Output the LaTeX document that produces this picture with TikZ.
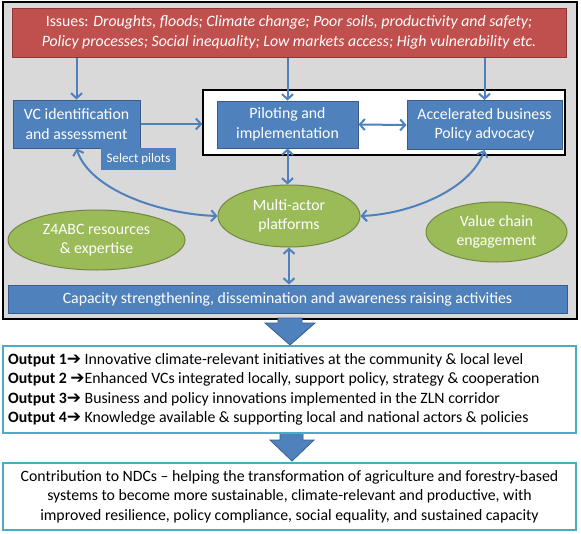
\documentclass[tikz,border=0pt]{standalone}
\usepackage{fontspec}
\setmainfont{Carlito}
\newfontfamily\symfont{DejaVu Sans}
\usetikzlibrary{arrows.meta,shapes.geometric}
\definecolor{boxblue}{HTML}{4F81BD}
\definecolor{boxblueline}{HTML}{385D8A}
\definecolor{issuered}{HTML}{C0504D}
\definecolor{issueredline}{HTML}{8C3836}
\definecolor{ellgreen}{HTML}{9BBB59}
\definecolor{ellgreenline}{HTML}{71893F}
\definecolor{framegray}{HTML}{D9D9D9}
\definecolor{outline}{HTML}{4BACC6}
\newcommand{\outarrow}{{\symfont\bfseries\fontsize{17}{19.5}\selectfont ➔}}
\begin{document}
\begin{tikzpicture}[x=1pt, y=-1pt,
  every node/.style={font=\fontsize{15.8}{19.5}\selectfont, inner sep=0pt},
  bluebox/.style={draw=boxblueline, fill=boxblue, line width=1pt, text=white, align=center},
  greenell/.style={ellipse, draw=ellgreenline, fill=ellgreen, line width=1pt, text=white, align=center},
  link/.style={draw=boxblue, line width=2pt, {Straight Barb[length=5pt,width=11pt]}-{Straight Barb[length=5pt,width=11pt]}},
  onelink/.style={draw=boxblue, line width=2pt, -{Straight Barb[length=5pt,width=11pt]}},
  bigarrow/.style={fill=boxblue, draw=boxblueline, line width=0.8pt},
  textbox/.style={draw=outline, fill=white, line width=1.5pt}]
  \useasboundingbox (0,0) rectangle (581,533);

  % 1. outer frame and issues
  \node[draw=black, fill=framegray, line width=2pt, minimum width=574, minimum height=317] (outer) at (290,160.5) {};
  \node[draw=issueredline, fill=issuered, line width=1pt, text=white, align=center,
        minimum width=554, minimum height=49] (issues) at (289,32.5)
        {Issues: \textit{Droughts, floods; Climate change; Poor soils, productivity and safety;}\\
         \textit{Policy processes; Social inequality; Low markets access; High vulnerability etc.}};

  % 2. boxes
  \node[draw=black, fill=white, line width=1.5pt, minimum width=362, minimum height=65] (frame) at (384,122.5) {};
  \node[bluebox, minimum width=127, minimum height=48] (vc) at (76.5,124) {VC identification\\and assessment};
  \node[bluebox, draw=none, font=\fontsize{13}{15}\selectfont, minimum width=75, minimum height=22] (pilots) at (138.5,159) {Select pilots};
  \node[bluebox, minimum width=141, minimum height=47] (pilot) at (287.5,124.5) {Piloting and\\implementation};
  \node[bluebox, minimum width=155, minimum height=49] (accel) at (484.5,125) {Accelerated business\\Policy advocacy};

  % 3. ellipses and bar
  \node[greenell, minimum width=142, minimum height=62] (multi) at (289,216) {Multi-actor\\platforms};
  \node[greenell, minimum width=177, minimum height=60] (z4abc) at (96.5,240) {Z4ABC resources\\\& expertise};
  \node[greenell, minimum width=141, minimum height=60] (chain) at (496.5,232) {Value chain\\engagement};
  \node[bluebox, minimum width=559, minimum height=28] (capacity) at (287.5,299) {Capacity strengthening, dissemination and awareness raising activities};

  % 4. connectors
  \draw[onelink] (issues.south -| vc.north) -- (vc.north);
  \draw[onelink] (issues.south -| pilot.north) -- (pilot.north);
  \draw[onelink] (issues.south -| accel.north) -- (accel.north);
  \draw[onelink] (vc.east) -- (vc.east -| frame.west);
  \draw[link] (pilot.east) -- (accel.west);
  \draw[link] (pilot.south) -- (pilot.south |- multi.north);
  \draw[link] (multi.south) -- (multi.south |- capacity.north);
  \draw[link] (vc.south) .. controls (90,190) and (160,214) .. (multi.west);
  \draw[link] (accel.south) .. controls (470,190) and (410,214) .. (multi.east);

  % 5. big arrows
  \draw[bigarrow] (278,318) -- (302,318) -- (302,323) -- (315,323) -- (290,345) -- (265,323) -- (278,323) -- cycle;
  \draw[bigarrow] (280,433) -- (303,433) -- (303,440) -- (314,440) -- (292,461) -- (270,440) -- (280,440) -- cycle;

  % 6. outputs and contribution
  \node[textbox, minimum width=573, minimum height=87] (outputs) at (289.5,389.5) {};
  \node[anchor=west, align=left] (outtext) at (8,389.5)
    {\textbf{Output 1}\outarrow{} Innovative climate-relevant initiatives at the community \& local level\\
     \textbf{Output 2} \outarrow{}Enhanced VCs integrated locally, support policy, strategy \& cooperation\\
     \textbf{Output 3}\outarrow{} Business and policy innovations implemented in the ZLN corridor\\
     \textbf{Output 4}\outarrow{} Knowledge available \& supporting local and national actors \& policies};
  \node[textbox, minimum width=573, minimum height=67, align=center] (ndc) at (289.5,496.5)
    {Contribution to NDCs -- helping the transformation of agriculture and forestry-based\\
     systems to become more sustainable, climate-relevant and productive, with\\
     improved resilience, policy compliance, social equality, and sustained capacity};
\end{tikzpicture}
\end{document}
